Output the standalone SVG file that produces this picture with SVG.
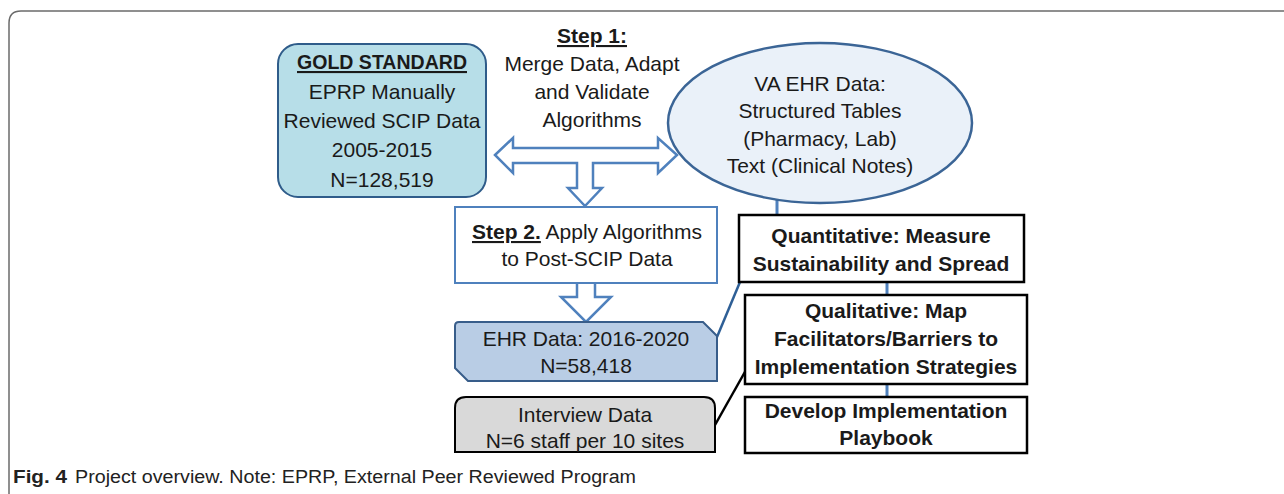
<svg xmlns="http://www.w3.org/2000/svg" width="1284" height="494" viewBox="0 0 1284 494">
<style>
  text { font-family: "Liberation Sans", Arial, sans-serif; font-size: 21px; fill: #1a1a1a; text-anchor: middle; }
  .b { font-weight: bold; }
  .u { text-decoration: underline; }
  .blk { fill: #fff; stroke: #000; stroke-width: 2.5; }
  .barrow { fill: #fff; stroke: #4f81bd; stroke-width: 2.5; stroke-linejoin: miter; }
  .cap { text-anchor: start; font-size: 18px; fill: #222; }
</style>
<rect width="1284" height="494" fill="#fff"/>
<path d="M9,494 L9,23 Q9,11 21,11 L1284,11" fill="none" stroke="#6b6b6b" stroke-width="1.5"/>

<g id="connectors">
  <line x1="777" y1="198" x2="777" y2="216" stroke="#4f81bd" stroke-width="3"/>
  <line x1="887" y1="282" x2="887" y2="296" stroke="#4f81bd" stroke-width="3"/>
  <line x1="887" y1="384" x2="887" y2="398" stroke="#4f81bd" stroke-width="3"/>
  <line x1="717" y1="337" x2="740" y2="282" stroke="#2e5f96" stroke-width="2.5"/>
  <line x1="715" y1="425" x2="746" y2="370" stroke="#000" stroke-width="2.5"/>
  <path class="barrow" d="M495,155 L513,138 L513,148 L658,148 L658,138 L677,155 L658,173 L658,163 L593,163 L593,188 L602,188 L585,206 L568,188 L577,188 L577,163 L513,163 L513,173 Z"/>
  <path class="barrow" d="M577,283 L577,297 L561,297 L586,322 L611,297 L595,297 L595,283"/>
</g>

<g id="gold">
  <rect x="278" y="44" width="208" height="153" rx="20" fill="#b7dee8" stroke="#2f5c8a" stroke-width="2"/>
  <text x="382" y="69" class="b u" textLength="170" lengthAdjust="spacingAndGlyphs">GOLD STANDARD</text>
  <text x="382" y="99">EPRP Manually</text>
  <text x="382" y="128">Reviewed SCIP Data</text>
  <text x="382" y="157">2005-2015</text>
  <text x="382" y="187">N=128,519</text>
</g>

<g id="step1">
  <text x="592" y="43" class="b u">Step 1:</text>
  <text x="592" y="71">Merge Data, Adapt</text>
  <text x="592" y="99">and Validate</text>
  <text x="592" y="127">Algorithms</text>
</g>

<g id="vaehr">
  <ellipse cx="820" cy="123" rx="152" ry="80" fill="#eaf1f9" stroke="#3b6596" stroke-width="2.5"/>
  <text x="820" y="91">VA EHR Data:</text>
  <text x="820" y="118">Structured Tables</text>
  <text x="820" y="146">(Pharmacy, Lab)</text>
  <text x="820" y="173">Text (Clinical Notes)</text>
</g>

<g id="step2">
  <rect x="455" y="207" width="262" height="76" fill="#fff" stroke="#4f81bd" stroke-width="2"/>
  <text x="587" y="239"><tspan class="b u">Step 2.</tspan> Apply Algorithms</text>
  <text x="587" y="266">to Post-SCIP Data</text>
</g>

<g id="ehr">
  <path d="M455,326 Q455,322 459,322 L703,322 L717,336 L717,381 L468,381 L455,368 Z" fill="#b9cde5" stroke="#385d8a" stroke-width="2"/>
  <text x="586" y="346">EHR Data: 2016-2020</text>
  <text x="586" y="373">N=58,418</text>
</g>

<g id="interview">
  <path d="M455,452 L455,408 Q455,397 466,397 L704,397 Q715,397 715,408 L715,452 Z" fill="#d9d9d9" stroke="#000" stroke-width="2"/>
  <text x="585" y="422">Interview Data</text>
  <text x="585" y="448">N=6 staff per 10 sites</text>
</g>

<g id="quant">
  <rect class="blk" x="739" y="215" width="285" height="67"/>
  <text x="881" y="243" class="b">Quantitative: Measure</text>
  <text x="881" y="271" class="b">Sustainability and Spread</text>
</g>

<g id="qual">
  <rect class="blk" x="745" y="295" width="282" height="89"/>
  <text x="886" y="318" class="b">Qualitative: Map</text>
  <text x="886" y="346" class="b">Facilitators/Barriers to</text>
  <text x="886" y="374" class="b">Implementation Strategies</text>
</g>

<g id="develop">
  <rect class="blk" x="745" y="397" width="282" height="56"/>
  <text x="886" y="418" class="b">Develop Implementation</text>
  <text x="886" y="445" class="b">Playbook</text>
</g>

<g id="caption">
  <text x="13" y="483" class="cap b" textLength="54" lengthAdjust="spacingAndGlyphs">Fig. 4</text>
  <text x="75" y="483" class="cap" textLength="561" lengthAdjust="spacingAndGlyphs">Project overview. Note: EPRP, External Peer Reviewed Program</text>
</g>
</svg>
